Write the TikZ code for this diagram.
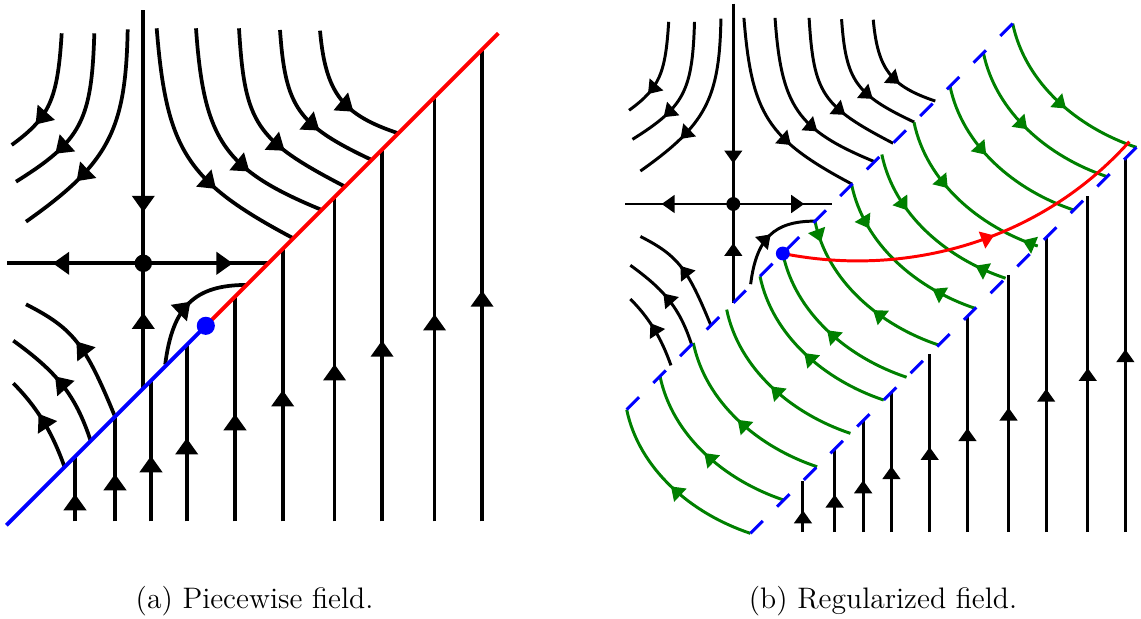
\documentclass[tikz,border=0pt]{standalone}
\usetikzlibrary{decorations.markings}
\definecolor{FlowGreen}{RGB}{0,128,0}
\definecolor{SlideRed}{RGB}{255,0,0}
\definecolor{CrossBlue}{RGB}{0,0,255}

% saddle part, same in both panels
\newcommand{\saddleflow}{%
  \draw[flow,arr=0.74] (-1.306,3.68) .. controls (-1.37,2.622) and (-1.498,2.336) .. (-2.106,1.893);
  \draw[flow,arr=0.72] (-0.784,3.68) .. controls (-0.826,2.275) and (-0.993,1.959) .. (-2.037,1.306);
  \draw[flow,arr=0.71] (-0.25,3.744) .. controls (-0.28,2.121) and (-0.556,1.598) .. (-1.877,0.666);
  \draw[flow,arr=0.65] (0.214,3.76) .. controls (0.371,1.801) and (0.692,1.307) .. (2.4,0.4);
  \draw[flow,arr=0.65] (0.843,3.76) .. controls (0.969,1.963) and (1.291,1.498) .. (2.854,0.854);
  \draw[flow,arr=0.65] (1.531,3.76) .. controls (1.623,2.227) and (1.792,1.974) .. (3.227,1.227);
  \draw[flow,arr=0.64] (2.187,3.733) .. controls (2.274,2.49) and (2.469,2.213) .. (3.654,1.654);
  \draw[flow,arr=0.63] (2.827,3.722) .. controls (2.917,2.724) and (3.18,2.379) .. (4.08,2.08);
  \draw[flow,arr=0.56] (-0.453,-2.453) .. controls (-0.933,-1.282) and (-1.123,-1.043) .. (-1.877,-0.656);
  \draw[flow,arr=0.56] (-0.842,-2.842) .. controls (-1.087,-2.092) and (-1.397,-1.732) .. (-2.08,-1.238);
  \draw[flow,arr=0.58] (-1.26,-3.26) .. controls (-1.459,-2.697) and (-1.705,-2.295) .. (-2.08,-1.92);
  \draw[flow,arr=0.52] (0.35,-1.62) .. controls (0.468,-0.69) and (0.82,-0.346) .. (1.654,-0.346);
  \draw[flow,arr=0.65] (0,0) -- (-2.18,0);
  \draw[flow,arr=0.7] (0,0) -- (2,0);
  \draw[flow,arr=0.79] (0,4.05) -- (0,0);
  \draw[flow,arr=0.59] (0,-2) -- (0,0);
  \fill (0,0) circle (0.14);
}
% vertical field below the switching line, shifted by (#1,-#1)
\newcommand{\upflow}[1]{%
  \foreach \x in {-1.093,-0.453,0.123,0.694,1.467,2.23,3.06,3.82,4.66,5.42}{
    \pgfmathsetmacro\p{((\x-6.35)/2+4.13)/(\x+2.13)}
    \draw[flow,arr=\p] ({\x+#1},{-4.13-#1}) -- ({\x+#1},{\x-2-#1});
  }
}
% fast fibre of the band
\newcommand{\fib}[1]{(#1,#1-2) .. controls ({#1+0.25},{#1-3.2}) and ({#1+1.3},{#1-4.1}) .. ({#1+2.5},{#1-4.5})}

\begin{document}
\begin{tikzpicture}[
  lw/.style={line width=1.7pt},
  arr/.style={postaction={decorate,decoration={markings,mark=at position #1 with {\fill (0.03,0) -- (-0.23,0.185) -- (-0.23,-0.185) -- cycle;}}}},
  rarr/.style={postaction={decorate,decoration={markings,mark=at position #1 with {\fill (-0.03,0) -- (0.23,0.185) -- (0.23,-0.185) -- cycle;}}}},
  flow/.style={lw,black},
  fiber/.style={lw,FlowGreen},
  slow/.style={lw,SlideRed},
  band/.style={lw,CrossBlue,dash pattern=on 8pt off 9.18pt},
  capt/.style={anchor=base,font=\fontsize{13.5}{16}\selectfont}
]
\useasboundingbox (-2.293,-5.691) rectangle (15.963,4.213);

% (a) piecewise field
\saddleflow
\upflow{0}
\draw[lw,CrossBlue] (-2.19,-4.19) -- (1,-1);
\draw[lw,SlideRed] (1,-1) -- (5.68,3.68);
\fill[CrossBlue] (1,-1) circle (0.145);

% (b) regularized field
\begin{scope}[shift={(9.44,0.949)},x=0.792cm,y=0.792cm,lw/.style={line width=1.35pt}]
  \saddleflow
  \upflow{2.5}
  \foreach \s in {-2.154,-1.481,-0.808,-0.134,0.539,1}
    \draw[fiber,rarr=0.5] \fib{\s};
  \foreach \s/\a/\b in {1.65/0.11/0.6,2.39/0.25/0.75,3/0.33/0.83,3.65/0.4/0.92}
    \draw[fiber,arr=\a,rarr=\b] \fib{\s};
  \foreach \s/\a in {4.378/0.42,5.052/0.48,5.644/0.55}
    \draw[fiber,arr=\a] \fib{\s};
  \draw[slow,arr=0.56] (1,-1) .. controls (3.5,-1.5) and (6.2,-0.75) .. (8,1.26);
  \draw[band] (-2.154,-4.154) -- (5.645,3.645);
  \draw[band] (0.346,-6.654) -- (8.145,1.145);
  \fill[CrossBlue] (1,-1) circle (0.14);
\end{scope}

\node[capt] (capA) at (1.78,-5.515) {(a) Piecewise field.};
\node[capt] (capB) at (11.835,-5.515) {(b) Regularized field.};
\end{tikzpicture}
\end{document}
